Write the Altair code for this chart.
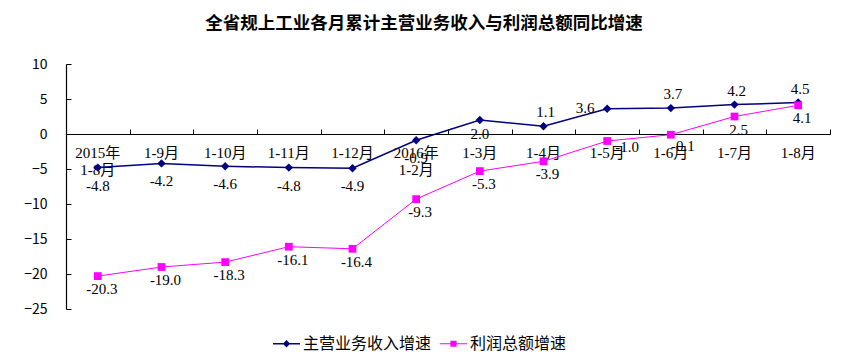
import altair as alt
import pandas as pd

categories = ["2015年\n1-8月", "1-9月", "1-10月", "1-11月", "1-12月", "2016年\n1-2月",
              "1-3月", "1-4月", "1-5月", "1-6月", "1-7月", "1-8月"]
revenue = [-4.8, -4.2, -4.6, -4.8, -4.9, -0.9, 2.0, 1.1, 3.6, 3.7, 4.2, 4.5]
profit = [-20.3, -19.0, -18.3, -16.1, -16.4, -9.3, -5.3, -3.9, -1.0, -0.1, 2.5, 4.1]
series_names = ["主营业务收入增速", "利润总额增速"]
y_ticks = [-25, -20, -15, -10, -5, 0, 5, 10]
title_text = "全省规上工业各月累计主营业务收入与利润总额同比增速"

rows = []
for s, vals in zip(series_names, [revenue, profit]):
    for c, v in zip(categories, vals):
        rows.append({"category": c, "series": s, "value": v, "label": f"{v:.1f}"})
df = pd.DataFrame(rows)

W, H = 764, 245
CJK = "Noto Sans CJK SC"
SERIF = "Liberation Serif, Noto Sans CJK SC"
colors = ["#000080", "#FF00FF"]
rev_name, pro_name = series_names


def xenc(axis):
    return alt.X("category:N", sort=categories,
                 scale=alt.Scale(type="band", domain=categories, paddingInner=0, paddingOuter=0),
                 axis=axis, title=None)


def yenc(axis):
    return alt.Y("value:Q", scale=alt.Scale(domain=[-25, 10], nice=False, zero=False),
                 axis=axis, title=None)


x_bottom = alt.Axis(orient="bottom", offset=-175, domain=False, ticks=False, grid=False,
                    labelAngle=0, labelPadding=11, labelFont=SERIF, labelFontSize=15,
                    labelColor="black", labelExpr="split(datum.label, '\\n')",
                    labelLineHeight=17, labelOverlap=False, labelFlush=False)
x_top = alt.Axis(orient="top", offset=-70, domain=True, domainColor="black", domainWidth=1.2,
                 ticks=True, tickBand="extent", tickSize=5, tickColor="black",
                 labels=False, grid=False)
y_left = alt.Axis(orient="left", domain=True, domainColor="black", domainWidth=1.2,
                  ticks=False, tickSize=0, labelPadding=19, values=y_ticks,
                  labelFont=CJK, labelFontSize=14, labelColor="black", grid=False)
y_right = alt.Axis(orient="right", offset=-W, domain=False, ticks=True, tickSize=5,
                   tickColor="black", labels=False, values=y_ticks, grid=False)

base = alt.Chart(df)


def only(name):
    return base.transform_filter(alt.FieldEqualPredicate(field="series", equal=name))


line_rev = only(rev_name).mark_line(color=colors[0], strokeWidth=1.5).encode(
    x=xenc(x_bottom), y=yenc(y_left))
line_pro = only(pro_name).mark_line(color=colors[1], strokeWidth=1.0).encode(
    x=xenc(None), y=yenc(None))
pts_rev = only(rev_name).mark_point(filled=True, opacity=1, size=70, shape="diamond",
                                    color=colors[0]).encode(x=xenc(x_top), y=yenc(y_right))
pts_pro = only(pro_name).mark_point(filled=True, opacity=1, size=60, shape="square",
                                    color=colors[1]).encode(x=xenc(None), y=yenc(None))

path_rev = "M-1,-0.055H1V0.055H-1Z M0,-0.27L0.27,0L0,0.27L-0.27,0Z"
path_pro = "M-1,-0.04H1V0.04H-1Z M-0.23,-0.23H0.23V0.23H-0.23Z"
leg = alt.Legend(orient="none", legendX=207, legendY=266, direction="horizontal", title=None,
                 symbolSize=729, symbolStrokeWidth=0, labelFont=CJK, labelFontSize=16,
                 labelColor="black", labelOffset=3, columnPadding=8, labelLimit=400)
legend_layer = base.mark_point(filled=True, opacity=1, size=0).encode(
    x=xenc(None), y=yenc(None),
    color=alt.Color("series:N", scale=alt.Scale(domain=series_names, range=colors), legend=leg),
    shape=alt.Shape("series:N", scale=alt.Scale(domain=series_names, range=[path_rev, path_pro]),
                    legend=leg),
)


def labels(series, cats, dx, dy):
    return only(series).transform_filter(
        alt.FieldOneOfPredicate(field="category", oneOf=cats)
    ).mark_text(font=SERIF, fontSize=15, color="black", dx=dx, dy=dy,
                align="center", baseline="middle").encode(
        x=xenc(None), y=yenc(None), text="label:N")


text_layers = [
    labels(rev_name, categories[0:6], 0, 18),
    labels(rev_name, [categories[6]], 0, 14),
    labels(rev_name, [categories[7], categories[9], categories[10], categories[11]], 2, -14),
    labels(rev_name, [categories[8]], -22, -1),
    labels(pro_name, categories[0:8] + categories[10:12], 4, 13),
    labels(pro_name, [categories[8]], 20, 6),
    labels(pro_name, [categories[9]], 12, 11),
]

chart = alt.layer(line_rev, line_pro, pts_rev, pts_pro, legend_layer, *text_layers).resolve_axis(
    x="independent", y="independent"
).properties(
    width=W, height=H,
    autosize=alt.AutoSizeParams(type="none"),
    padding={"left": 58, "top": 56, "right": 12, "bottom": 44},
    title=alt.TitleParams(text=title_text, font=CJK, fontSize=17.5, fontWeight="bold",
                          color="black", anchor="middle", dx=-24, offset=25),
).configure_view(stroke=None)

chart.save("out.html", embed_options={"renderer": "svg", "actions": False})
